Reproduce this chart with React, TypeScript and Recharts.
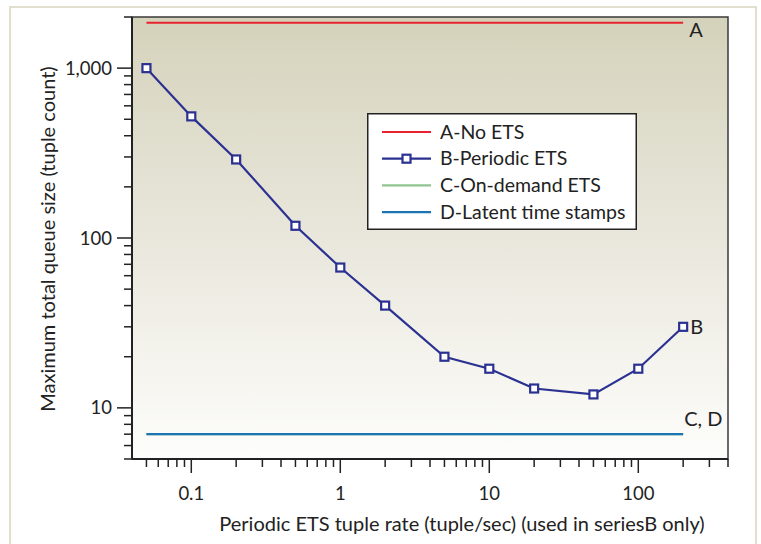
import React from 'react';
import { LineChart, Line, XAxis, YAxis, ReferenceArea } from 'recharts';

// ---- data ----
const rateValues = [0.05, 0.1, 0.2, 0.5, 1, 2, 5, 10, 20, 50, 100, 200];
const seriesBValues = [1000, 520, 290, 118, 67, 40, 20, 17, 13, 12, 17, 30];
const seriesAValue = 1850;
const seriesCValue = 7;
const seriesDValue = 7;
const rangeEnds = [0.05, 200];

const xMajorTicks = [0.1, 1, 10, 100];
const xMajorLabels = ['0.1', '1', '10', '100'];
const xMinorTicks = [0.05, 0.06, 0.07, 0.08, 0.09, 0.2, 0.3, 0.4, 0.5, 0.6, 0.7, 0.8, 0.9, 2, 3, 4, 5, 6, 7, 8, 9, 20, 30, 40, 50, 60, 70, 80, 90, 200, 300, 400];
const yMajorTicks = [10, 100, 1000];
const yMajorLabels = ['10', '100', '1,000'];
const yMinorTicks = [5, 6, 7, 8, 9, 20, 30, 40, 50, 60, 70, 80, 90, 200, 300, 400, 500, 600, 700, 800, 900, 2000];

const seriesNames = ['A-No ETS', 'B-Periodic ETS', 'C-On-demand ETS', 'D-Latent time stamps'];
const endLabels = ['A', 'B', 'C, D'];

const COLORS = { a: '#e8232f', b: '#2b3191', c: '#8fc490', d: '#1b74b4' };
const FONT = 'Lato, "DejaVu Sans", sans-serif';

const dataA = rangeEnds.map((x) => ({ x, y: seriesAValue }));
const dataB = rateValues.map((x, i) => ({ x, y: seriesBValues[i] }));
const dataC = rangeEnds.map((x) => ({ x, y: seriesCValue }));
const dataD = rangeEnds.map((x) => ({ x, y: seriesDValue }));

const xTicks = [...xMinorTicks, ...xMajorTicks].sort((a, b) => a - b);
const yTicks = [...yMinorTicks, ...yMajorTicks].sort((a, b) => a - b);

const XTick = (props: any) => {
  const { x, y, payload } = props;
  const idx = xMajorTicks.indexOf(payload.value);
  const major = idx >= 0;
  return (
    <g>
      <line x1={x} x2={x} y1={y} y2={y + (major ? 14 : 8)} stroke="#222" strokeWidth={1.5} />
      {major && (
        <text x={x} y={y + 41} textAnchor="middle" fontFamily={FONT} fontSize={18.5} fill="#222">
          {xMajorLabels[idx]}
        </text>
      )}
    </g>
  );
};

const YTick = (props: any) => {
  const { x, y, payload } = props;
  const idx = yMajorTicks.indexOf(payload.value);
  const major = idx >= 0;
  return (
    <g>
      <line x1={x} x2={x - (major ? 15 : 8)} y1={y} y2={y} stroke="#222" strokeWidth={1.5} />
      {major && (
        <text x={x - 20} y={y + 6.5} textAnchor="end" fontFamily={FONT} fontSize={18.5} fill="#222">
          {yMajorLabels[idx]}
        </text>
      )}
    </g>
  );
};

const SquareDot = (props: any) => {
  const { cx, cy } = props;
  if (cx == null || cy == null) return null;
  return <rect x={cx - 4} y={cy - 4} width={8} height={8} fill="#fff" stroke={COLORS.b} strokeWidth={2.2} />;
};

const makeEndLabel = (text: string, n: number, dx: number, dy: number) => (props: any) => {
  const { x, y, index } = props;
  if (index !== n - 1) return null;
  return (
    <text x={x + dx} y={y + dy} fontFamily={FONT} fontSize={20} fill="#222">
      {text}
    </text>
  );
};

const legendRows = [
  { name: seriesNames[0], color: COLORS.a, marker: false },
  { name: seriesNames[1], color: COLORS.b, marker: true },
  { name: seriesNames[2], color: COLORS.c, marker: false },
  { name: seriesNames[3], color: COLORS.d, marker: false },
];

const LegendBox = () => (
  <svg width={270} height={117} style={{ display: 'block' }}>
    <rect x={0.75} y={0.75} width={268.5} height={115.5} fill="#fff" stroke="#222" strokeWidth={1.5} />
    {legendRows.map((r, i) => {
      const cy = 19 + i * 26.7;
      return (
        <g key={r.name}>
          <line x1={15} x2={64} y1={cy} y2={cy} stroke={r.color} strokeWidth={2.2} />
          {r.marker && <rect x={35.5} y={cy - 4} width={8} height={8} fill="#fff" stroke={r.color} strokeWidth={2.2} />}
          <text x={73} y={cy + 6.5} fontFamily={FONT} fontSize={19.5} fill="#222">
            {r.name}
          </text>
        </g>
      );
    })}
  </svg>
);

export default function App() {
  return (
    <div style={{ position: 'absolute', left: 0, top: 0, width: 761, height: 544, overflow: 'hidden', background: '#fff' }}>
      <div
        style={{
          position: 'absolute',
          left: 9,
          top: 6,
          width: 744,
          height: 600,
          border: '2px solid #e2dfcf',
          background: '#fff',
        }}
      />
      <div style={{ position: 'absolute', left: 0, top: 0 }}>
        <LineChart width={761} height={544} margin={{ top: 17, right: 33, bottom: 0, left: 0 }}>
          <defs>
            <linearGradient id="bgGrad" x1="0" y1="0" x2="0" y2="1">
              <stop offset="0%" stopColor="#d5d2bb" />
              <stop offset="50%" stopColor="#e9e7dc" />
              <stop offset="100%" stopColor="#fdfdfb" />
            </linearGradient>
          </defs>
          <XAxis
            type="number"
            dataKey="x"
            scale="log"
            domain={[0.04, 400]}
            allowDataOverflow
            ticks={xTicks}
            interval={0}
            tick={<XTick />}
            tickLine={false}
            tickSize={0}
            tickMargin={0}
            height={85}
            axisLine={{ stroke: '#222', strokeWidth: 2 }}
          />
          <YAxis
            type="number"
            dataKey="y"
            scale="log"
            domain={[5, 2000]}
            allowDataOverflow
            ticks={yTicks}
            interval={0}
            tick={<YTick />}
            tickLine={false}
            tickSize={0}
            tickMargin={0}
            width={132}
            axisLine={{ stroke: '#222', strokeWidth: 2 }}
          />
          <ReferenceArea x1={0.04} x2={400} y1={5} y2={2000} fill="url(#bgGrad)" fillOpacity={1} stroke="#3a3a3a" strokeWidth={1.5} ifOverflow="visible" />
          <Line
            data={dataA}
            dataKey="y"
            name={seriesNames[0]}
            stroke={COLORS.a}
            strokeWidth={2.2}
            dot={false}
            isAnimationActive={false}
            label={makeEndLabel(endLabels[0], dataA.length, 6, 14)}
          />
          <Line
            data={dataB}
            dataKey="y"
            name={seriesNames[1]}
            stroke={COLORS.b}
            strokeWidth={2.2}
            dot={<SquareDot />}
            isAnimationActive={false}
            label={makeEndLabel(endLabels[1], dataB.length, 7, 7)}
          />
          <Line
            data={dataC}
            dataKey="y"
            name={seriesNames[2]}
            stroke={COLORS.c}
            strokeWidth={2.2}
            dot={false}
            isAnimationActive={false}
          />
          <Line
            data={dataD}
            dataKey="y"
            name={seriesNames[3]}
            stroke={COLORS.d}
            strokeWidth={2.2}
            dot={false}
            isAnimationActive={false}
            label={makeEndLabel(endLabels[2], dataD.length, 1, -8)}
          />
        </LineChart>
      </div>
      <div style={{ position: 'absolute', left: 367, top: 113 }}>
        <LegendBox />
      </div>
      <div
        style={{
          position: 'absolute',
          left: 462,
          top: 523,
          transform: 'translate(-50%, -50%)',
          whiteSpace: 'nowrap',
          fontFamily: FONT,
          fontSize: 20,
          color: '#222',
        }}
      >
        Periodic ETS tuple rate (tuple/sec) (used in seriesB only)
      </div>
      <div
        style={{
          position: 'absolute',
          left: 47,
          top: 239,
          transform: 'translate(-50%, -50%) rotate(-90deg)',
          whiteSpace: 'nowrap',
          fontFamily: FONT,
          fontSize: 20,
          color: '#222',
        }}
      >
        Maximum total queue size (tuple count)
      </div>
    </div>
  );
}
